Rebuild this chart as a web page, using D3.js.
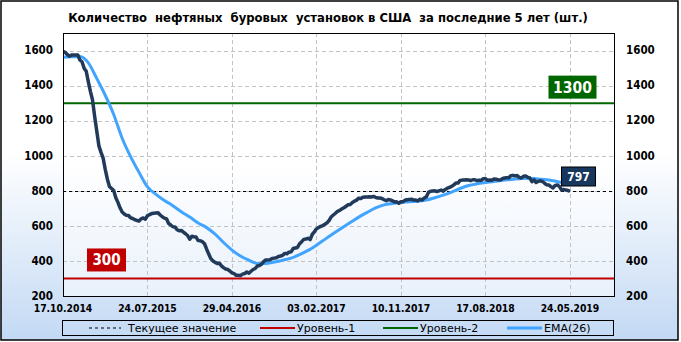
<!DOCTYPE html>
<html>
<head>
<meta charset="utf-8">
<script src="https://cdn.jsdelivr.net/npm/d3@7"></script>
<style>
	body { margin: 0; padding: 0; background: #fff; }
	svg { display: block; }
	text { font-family: "DejaVu Sans Condensed", "DejaVu Sans", sans-serif; }
</style>
</head>
<body>
<div id="chart"></div>
<script>
/** Oil rigs chart, USA, last 5 years **/

//first week of the series and the end of the x axis
var startDate = new Date(2014, 9, 17);
var endDate = new Date(2019, 9, 17);

//weekly oil rig count, from 17.10.2014 to 24.05.2019
var rigCounts = [
	1595, 1590, 1578, 1568, 1574, 1574, 1575, 1575, 1546, 1536, 1499,
	1482, 1421, 1366, 1317, 1223, 1140, 1056, 1019, 986, 922, 866, 825, 813, 802, 760, 734, 703,
	679, 668, 660, 659, 646, 642, 635, 631, 628, 640, 645, 638, 659, 664, 670, 672, 674, 675,
	662, 652, 644, 640, 614, 605, 595, 594, 578, 572, 574, 564, 555, 545, 524, 541, 538,
	536, 516, 515, 510, 498, 467, 439, 413, 400, 392, 386, 387, 372, 362, 354, 351, 343, 332,
	328, 318, 318, 316, 325, 328, 337, 330, 341, 351, 357, 371, 374, 381, 396, 406, 406, 407,
	414, 416, 418, 425, 428, 432, 443, 441, 450, 452, 471, 474, 477, 498, 510, 523, 525,
	529, 522, 551, 566, 583, 591, 597, 602, 609, 617, 631, 652, 662, 672, 683, 688, 697, 703,
	712, 720, 722, 733, 741, 747, 758, 756, 763, 765, 764, 766, 765, 768, 763, 759, 759, 756,
	749, 744, 750, 748, 743, 736, 737, 729, 738, 738, 747, 749, 751, 752, 747, 747,
	742, 752, 747, 759, 765, 791, 798, 799, 800, 796, 800, 804, 797, 808, 815, 820, 825, 834,
	844, 844, 859, 861, 862, 863, 862, 858, 863, 863, 858, 861, 859, 869, 869, 860, 862, 860,
	867, 866, 863, 861, 869, 873, 875, 874, 886, 888, 885, 887, 877, 873, 883, 885,
	877, 873, 852, 862, 847, 854, 857, 853, 843, 834, 833, 824, 816, 831, 833, 825, 805, 807,
	805, 802, 797
];

//EMA(26), one value every 4 weeks
var emaValues = [
	1562, 1564, 1566, 1530, 1440, 1345, 1235, 1100, 995, 905, 822, 780, 745, 715, 680, 650,
	616, 590, 553, 505, 462, 428, 404, 386, 386, 394, 404, 416, 436, 460, 490, 523, 556, 588,
	619, 650, 677, 702, 720, 728, 734, 737, 741, 747, 760, 775, 793, 813, 830, 840, 847, 853,
	860, 865, 869, 872, 869, 864, 857, 848, 840
];

//x axis tick labels (every 40 weeks)
var tickLabels = ["17.10.2014", "24.07.2015", "29.04.2016", "03.02.2017", "10.11.2017", "17.08.2018", "24.05.2019"];
var yTicks = [200, 400, 600, 800, 1000, 1200, 1400, 1600];

//levels
var level1 = 300;
var level2 = 1300;
var currentValue = rigCounts[rigCounts.length - 1];

var legendItems = [
	{"name": "Текущее значение", "color": "#000", "dash": "3,3", "width": 1},
	{"name": "Уровень-1", "color": "#c00000", "dash": null, "width": 2},
	{"name": "Уровень-2", "color": "#006600", "dash": null, "width": 2},
	{"name": "EMA(26)", "color": "#41a4ff", "dash": null, "width": 3}
];

var width = 681;
var height = 342;
var plot = {left: 63, right: 614, top: 33, bottom: 296};

var rigData = rigCounts.map(function(v, i) {
	return {date: d3.timeDay.offset(startDate, 7 * i), value: v};
});
var emaData = emaValues.map(function(v, i) {
	return {date: d3.timeDay.offset(startDate, 28 * i), value: v};
});
var tickDates = tickLabels.map(function(t) {
	var p = t.split(".");
	return new Date(+p[2], +p[1] - 1, +p[0]);
});

var x = d3.scaleTime().domain([startDate, endDate]).range([plot.left, plot.right]);
var y = d3.scaleLinear().domain([200, 1700]).range([plot.bottom, plot.top]);

var svg = d3.select("#chart").append("svg")
	.attr("width", width)
	.attr("height", height);

var defs = svg.append("defs");
var bgGrad = defs.append("linearGradient").attr("id", "bgGrad")
	.attr("x1", 0).attr("y1", 0).attr("x2", 0).attr("y2", 1);
bgGrad.append("stop").attr("offset", "0").attr("stop-color", "#ffffff");
bgGrad.append("stop").attr("offset", "0.45").attr("stop-color", "#ffffff");
bgGrad.append("stop").attr("offset", "1").attr("stop-color", "#c3d9f4");

var plotGrad = defs.append("linearGradient").attr("id", "plotGrad")
	.attr("x1", 0).attr("y1", 0).attr("x2", 0).attr("y2", 1);
plotGrad.append("stop").attr("offset", "0").attr("stop-color", "#ffffff");
plotGrad.append("stop").attr("offset", "0.5").attr("stop-color", "#ffffff");
plotGrad.append("stop").attr("offset", "1").attr("stop-color", "#e9f1fb");

defs.append("clipPath").attr("id", "plotClip")
	.append("rect")
	.attr("x", plot.left).attr("y", plot.top)
	.attr("width", plot.right - plot.left).attr("height", plot.bottom - plot.top);

//outer frame
svg.append("rect")
	.attr("x", 1).attr("y", 1)
	.attr("width", 677).attr("height", 339)
	.style("fill", "url(#bgGrad)")
	.style("stroke", "#000")
	.style("stroke-width", 1.5);

//title
svg.append("text")
	.attr("x", 328).attr("y", 22)
	.attr("text-anchor", "middle")
	.style("font-size", "12.9px")
	.style("font-weight", "bold")
	.style("white-space", "pre")
	.attr("xml:space", "preserve")
	.text("Количество  нефтяных  буровых  установок в США  за последние 5 лет (шт.)");

//plot background
svg.append("rect")
	.attr("x", plot.left).attr("y", plot.top)
	.attr("width", plot.right - plot.left).attr("height", plot.bottom - plot.top)
	.style("fill", "url(#plotGrad)");

//grid
var grid = svg.append("g").attr("class", "grid");
grid.selectAll("line.h").data(yTicks.slice(1)).enter().append("line")
	.attr("x1", plot.left).attr("x2", plot.right)
	.attr("y1", function(d){return Math.round(y(d)) + 0.5;})
	.attr("y2", function(d){return Math.round(y(d)) + 0.5;})
	.style("stroke", "#c3c3c3")
	.style("stroke-dasharray", "4,3");
grid.selectAll("line.v").data(tickDates.slice(1)).enter().append("line")
	.attr("y1", plot.top).attr("y2", plot.bottom)
	.attr("x1", function(d){return Math.round(x(d)) + 0.5;})
	.attr("x2", function(d){return Math.round(x(d)) + 0.5;})
	.style("stroke", "#c3c3c3")
	.style("stroke-dasharray", "4,3");

//level lines
svg.append("line")
	.attr("x1", plot.left).attr("x2", plot.right)
	.attr("y1", y(level1)).attr("y2", y(level1))
	.style("stroke", "#c00000").style("stroke-width", 2);
svg.append("line")
	.attr("x1", plot.left).attr("x2", plot.right)
	.attr("y1", y(level2)).attr("y2", y(level2))
	.style("stroke", "#006600").style("stroke-width", 2);
svg.append("line")
	.attr("x1", plot.left).attr("x2", plot.right)
	.attr("y1", Math.round(y(currentValue)) + 0.5).attr("y2", Math.round(y(currentValue)) + 0.5)
	.style("stroke", "#000").style("stroke-dasharray", "3,3");

//series
var line = d3.line()
	.x(function(d){return x(d.date);})
	.y(function(d){return y(d.value);});

var series = svg.append("g").attr("clip-path", "url(#plotClip)");
series.append("path")
	.datum(emaData)
	.attr("d", line.curve(d3.curveMonotoneX))
	.style("fill", "none")
	.style("stroke", "#41a4ff")
	.style("stroke-width", 3)
	.style("stroke-linejoin", "round");
series.append("path")
	.datum(rigData)
	.attr("d", line.curve(d3.curveLinear))
	.style("fill", "none")
	.style("stroke", "#213a5a")
	.style("stroke-width", 3.5)
	.style("stroke-linejoin", "round");

//plot frame
svg.append("rect")
	.attr("x", plot.left + 0.5).attr("y", plot.top + 0.5)
	.attr("width", plot.right - plot.left).attr("height", plot.bottom - plot.top)
	.style("fill", "none")
	.style("stroke", "#000");

//y axis labels both sides
var yLeft = svg.append("g").selectAll("text").data(yTicks).enter().append("text")
	.attr("x", 53).attr("y", function(d){return y(d);})
	.attr("dy", "0.33em")
	.attr("text-anchor", "end")
	.style("font-size", "11.5px").style("font-weight", "bold")
	.text(function(d){return d;});
var yRight = svg.append("g").selectAll("text").data(yTicks).enter().append("text")
	.attr("x", 626).attr("y", function(d){return y(d);})
	.attr("dy", "0.33em")
	.style("font-size", "11.5px").style("font-weight", "bold")
	.text(function(d){return d;});

//x axis labels
svg.append("g").selectAll("text").data(tickDates).enter().append("text")
	.attr("x", function(d){return x(d);}).attr("y", 312)
	.attr("text-anchor", "middle")
	.style("font-size", "10.3px").style("font-weight", "bold")
	.text(function(d, i){return tickLabels[i];});

//value boxes
function valueBox(cx, cy, w, h, fill, label, size, stroke) {
	var g = svg.append("g");
	g.append("rect")
		.attr("x", cx - w / 2).attr("y", cy - h / 2)
		.attr("width", w).attr("height", h)
		.style("fill", fill)
		.style("stroke", stroke || "none");
	g.append("text")
		.attr("x", cx).attr("y", cy)
		.attr("dy", "0.36em")
		.attr("text-anchor", "middle")
		.style("fill", "#fff")
		.style("font-size", size + "px")
		.style("font-weight", "bold")
		.text(label);
}
valueBox(106.5, y(level1) - 18.5, 39, 23, "#c00000", level1, 15);
valueBox(572.5, y(level2) - 16, 48, 23, "#006600", level2, 15.5);
valueBox(578.5, 176.5, 34, 19, "#17375e", currentValue, 12, "#000");

//legend
var legend = svg.append("g");
legend.append("rect")
	.attr("x", 62.5).attr("y", 320.5)
	.attr("width", 551).attr("height", 15)
	.style("fill", "none")
	.style("stroke", "#000");
var legendX = [89, 260, 383, 507];
var legendItem = legend.selectAll("g.item").data(legendItems).enter().append("g")
	.attr("transform", function(d, i){return "translate(" + legendX[i] + ",328)";});
legendItem.append("line")
	.attr("x1", 0).attr("x2", function(d, i){return i == 0 ? 32 : 35;})
	.attr("y1", 0).attr("y2", 0)
	.style("stroke", function(d){return d.color;})
	.style("stroke-width", function(d){return d.width;})
	.style("stroke-dasharray", function(d){return d.dash;});
legendItem.append("text")
	.attr("x", function(d, i){return i == 0 ? 39 : 37;}).attr("y", 0)
	.attr("dy", "0.36em")
	.style("font-family", "'DejaVu Sans', sans-serif")
	.style("font-size", "11px")
	.text(function(d){return d.name;});
</script>
</body>
</html>
